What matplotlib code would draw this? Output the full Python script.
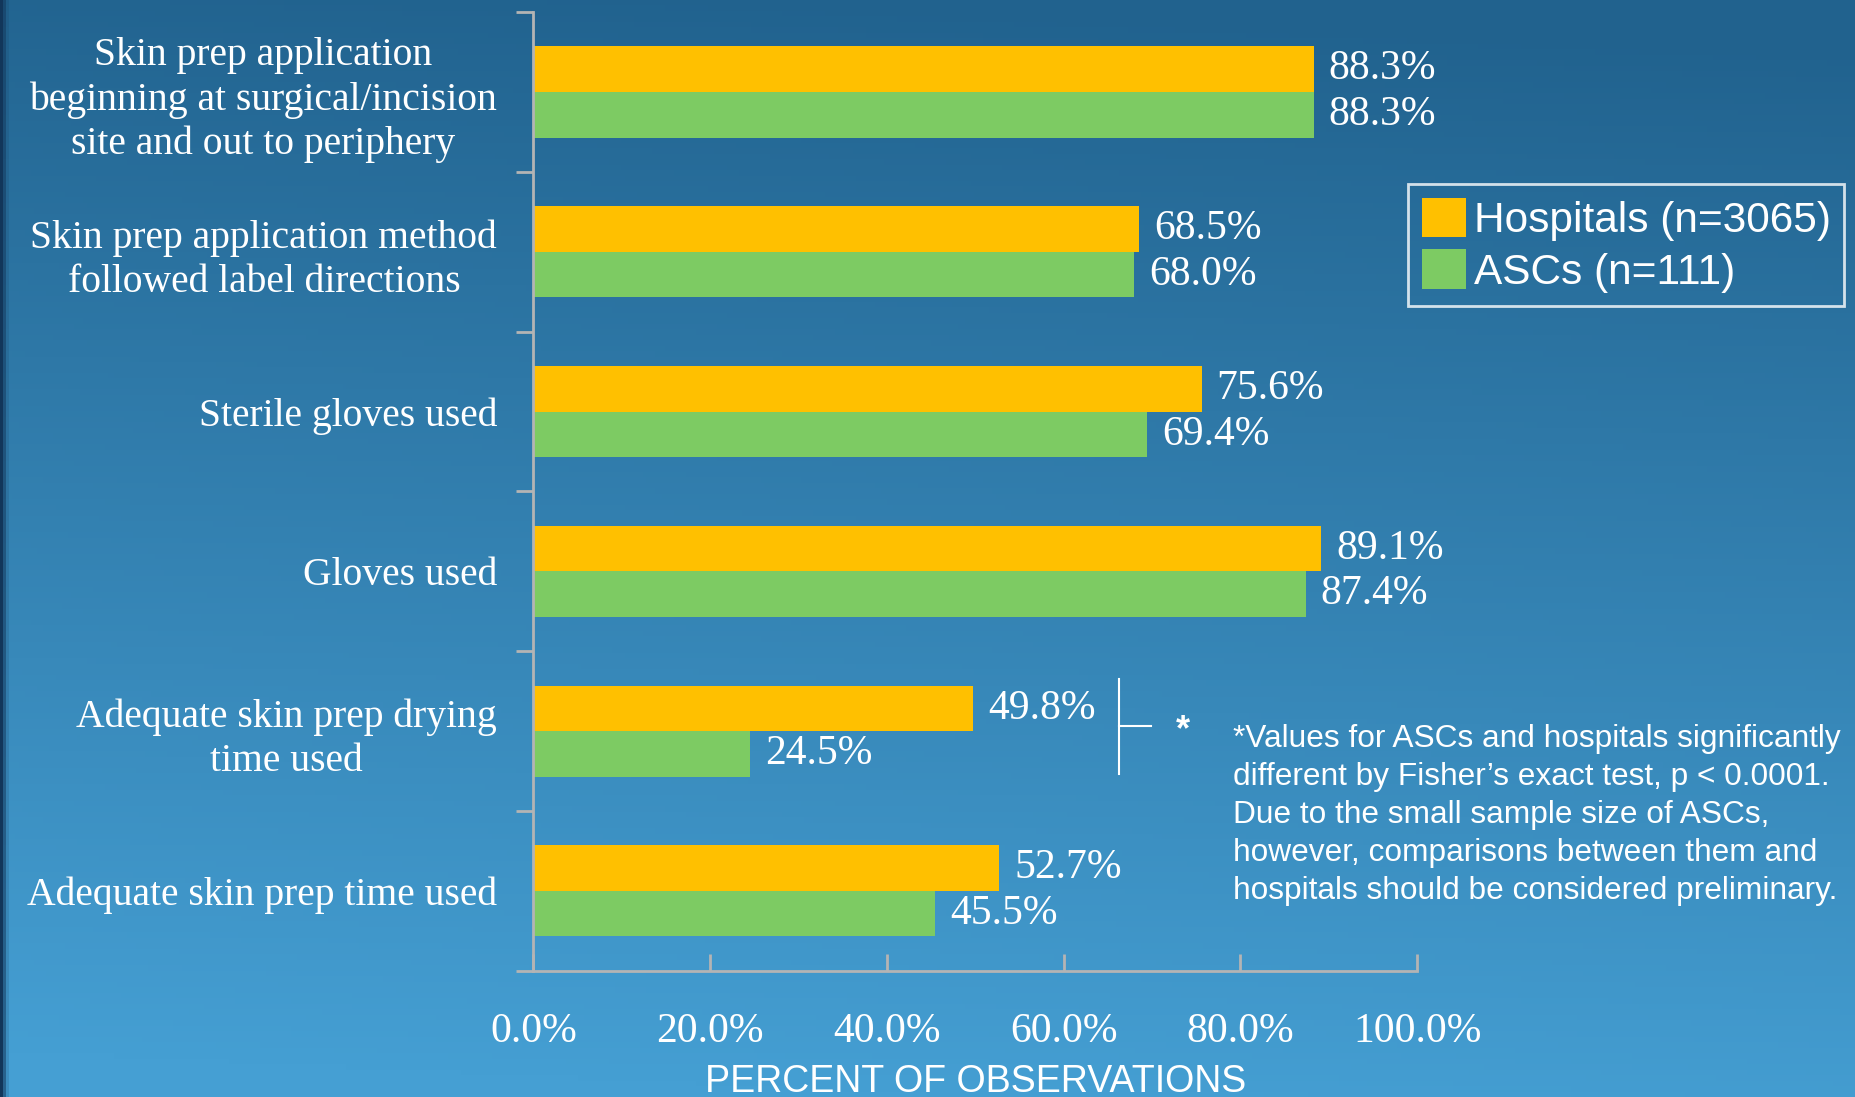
import matplotlib.pyplot as plt
import numpy as np
from matplotlib.patches import Patch

categories = [
    "Skin prep application\nbeginning at surgical/incision\nsite and out to periphery",
    "Skin prep application method\nfollowed label directions",
    "Sterile gloves used",
    "Gloves used",
    "Adequate skin prep drying\ntime used",
    "Adequate skin prep time used",
]
hospitals = [88.3, 68.5, 75.6, 89.1, 49.8, 52.7]
ascs = [88.3, 68.0, 69.4, 87.4, 24.5, 45.5]
xticks = [0, 20, 40, 60, 80, 100]
legend_labels = ["Hospitals (n=3065)", "ASCs (n=111)"]
footnote = ("*Values for ASCs and hospitals significantly\n"
            "different by Fisher\u2019s exact test, p < 0.0001.\n"
            "Due to the small sample size of ASCs,\n"
            "however, comparisons between them and\n"
            "hospitals should be considered preliminary.")

orange = "#FFC000"
green = "#7DCB63"
serif = "Liberation Serif"
sans = ["Liberation Sans", "DejaVu Sans"]

fig = plt.figure(figsize=(18.55, 10.97), dpi=100)

# background gradient
bg = fig.add_axes([0, 0, 1, 1])
ny, nx = 200, 600
yy, xx = np.mgrid[0:1:ny * 1j, 0:1:nx * 1j]
top = np.array([0x21, 0x62, 0x8e]) / 255
bot = np.array([0x45, 0x9f, 0xd3]) / 255
t = np.clip(yy * 1.0 + (0.5 - xx) * 0.08, 0, 1)[..., None]
img = top * (1 - t) + bot * t
edge = np.clip(xx / 0.004, 0, 1)[..., None]
dark = np.array([0x12, 0x36, 0x5a]) / 255
img = dark * (1 - edge) + img * edge
bg.imshow(img, extent=[0, 1, 0, 1], aspect="auto", origin="upper")
bg.axis("off")

ax = fig.add_axes([0.2875, 0.115, 0.4765, 0.874])
ax.set_facecolor("none")
n = len(categories)
pos = np.arange(n)[::-1]
h = 0.285
ax.barh(pos + h / 2, hospitals, height=h, color=orange)
ax.barh(pos - h / 2, ascs, height=h, color=green)

for p, v in zip(pos, hospitals):
    ax.text(v + 1.7, p + h / 2, f"{v:.1f}%", va="center", ha="left",
            color="white", fontsize=30, family=serif)
for p, v in zip(pos, ascs):
    ax.text(v + 1.7, p - h / 2, f"{v:.1f}%", va="center", ha="left",
            color="white", fontsize=30, family=serif)

ax.set_xlim(0, 100)
ax.set_ylim(-0.5, n - 0.5)
ax.set_xticks(xticks)
ax.set_xticklabels([f"{x:.1f}%" for x in xticks], family=serif, fontsize=30, color="white")
ax.set_yticks(pos)
ax.set_yticklabels(categories, family=serif, fontsize=28.5, color="white",
                   multialignment="center", linespacing=1.25)
ax.tick_params(axis="y", length=0, pad=26)
ax.set_yticks(np.arange(n + 1) - 0.5, minor=True)
ax.tick_params(axis="y", which="minor", length=12, width=2, color="#b4b4b4", direction="out")
ax.tick_params(axis="x", length=12, width=2, color="#b4b4b4", direction="in", pad=30)
for s in ["top", "right"]:
    ax.spines[s].set_visible(False)
for s in ["left", "bottom"]:
    ax.spines[s].set_color("#b4b4b4")
    ax.spines[s].set_linewidth(2)
ax.set_xlabel("PERCENT OF OBSERVATIONS", family=sans, fontsize=27, color="white",
              labelpad=9)

# significance bracket
ax.plot([66.3, 66.3], [1 + 0.325, 1 - 0.27], color="white", lw=1.5, clip_on=False)
ax.plot([66.3, 69.9], [1 + 0.03, 1 + 0.03], color="white", lw=1.5, clip_on=False)
ax.text(73.5, 1 + 0.0, "*", color="white", fontsize=26, va="center", ha="center",
        family=sans, fontweight="bold")

fig.text(0.6647, 0.340, footnote, color="white", fontsize=22.8, family=sans,
         va="top", ha="left", linespacing=1.35)

handles = [Patch(facecolor=orange), Patch(facecolor=green)]
leg = fig.legend(handles, legend_labels, loc="upper left",
                 bbox_to_anchor=(0.759, 0.832), frameon=True, borderaxespad=0,
                 prop={"family": sans, "size": 30.5},
                 handlelength=1.05, handleheight=1.05, handletextpad=0.18,
                 labelspacing=0.2, borderpad=0.32, fancybox=False)
leg.get_frame().set_facecolor("none")
leg.get_frame().set_edgecolor("white")
leg.get_frame().set_linewidth(2)
for txt in leg.get_texts():
    txt.set_color("white")

fig.savefig("out.png", dpi=100)
